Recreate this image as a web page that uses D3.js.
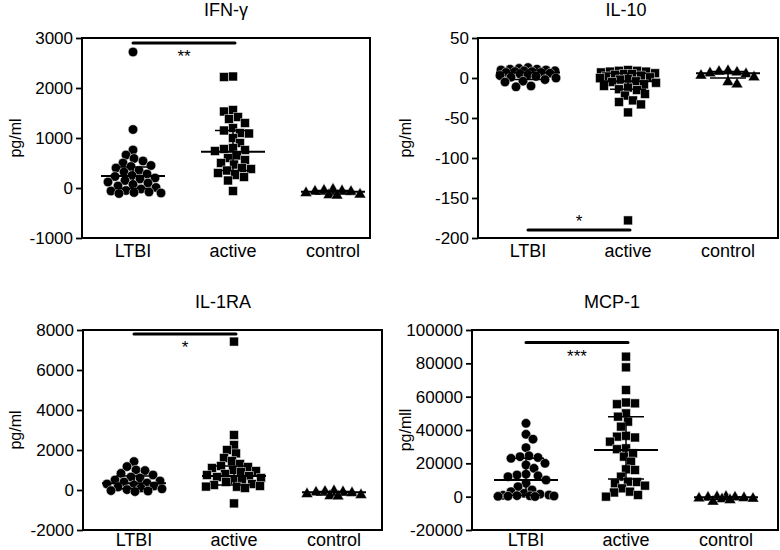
<!DOCTYPE html>
<html>
<head>
<meta charset="utf-8">
<script src="https://cdn.jsdelivr.net/npm/d3@7"></script>
<style>
  body { margin: 0; background: #fff; }
  svg { display: block; font-family: "Liberation Sans", Arial, sans-serif; }
</style>
</head>
<body>
<svg id="chart" width="780" height="550"></svg>
<script>
// groups on the x axis
const groups = ["LTBI", "active", "control"];

// IFN-gamma (pg/ml)
const ifnLTBI = [2720, 1170, 760, 660, 590, 540, 500, 450, 430, 400, 350, 320, 280, 250, 230,
  200, 180, 150, 120, 100, 70, 40, 10, -20, -50, -60, -80, -90, -100, -110];
const ifnActive = [2230, 2220, 1560, 1530, 1420, 1380, 1300, 1200, 1150, 1100, 1090, 1000, 900,
  800, 780, 760, 740, 650, 600, 560, 500, 470, 400, 380, 350, 300, 260, 220, 150, -60];
const ifnControl = [-30, -50, -60, -70, -75, -100, -130, -140, -150];
const ifnMedian = [240, 727, -75], ifnQ1 = [-10, 350, -120], ifnQ3 = [420, 1150, -50];

// IL-10 (pg/ml)
const il10LTBI = [13, 12, 11, 11, 10, 10, 9, 9, 8, 8, 7, 7, 6, 5, 4, 3, 2, 1, 0, -2, -4, -5, -10, -11];
const il10Active = [10, 9, 9, 8, 8, 7, 6, 5, 5, 4, 3, 2, 1, 0, -1, -2, -4, -5, -6, -8, -10, -12,
  -14, -15, -20, -22, -28, -30, -33, -43, -178];
const il10Control = [9, 8, 7, 6, 5, 3, 1, -5, -8];
const il10Median = [7, -4, 6], il10Q1 = [-2, -14, 0], il10Q3 = [10, 6, 8];

// IL-1RA (pg/ml)
const il1raLTBI = [1420, 1170, 1000, 970, 830, 750, 650, 600, 500, 450, 400, 350, 300, 250, 200,
  150, 100, 60, 20, -30, -50, -80];
const il1raActive = [7420, 2750, 2250, 2000, 1830, 1600, 1450, 1300, 1200, 1150, 1100, 1000, 950,
  900, 800, 750, 700, 650, 600, 500, 450, 400, 300, 250, 200, 170, 160, 100, -670];
const il1raControl = [-50, -80, -100, -120, -150, -200, -250, -300, -320];
const il1raMedian = [333, 700, -117], il1raQ1 = [60, 250, -250], il1raQ3 = [700, 1200, -80];

// MCP-1 (pg/ml)
const mcpLTBI = [44000, 37400, 34500, 29400, 24500, 24000, 23500, 23000, 20000, 19000, 17000,
  13500, 13000, 12500, 12000, 10000, 8000, 6000, 4000, 3000, 2000, 1500, 1000, 800, 600, 500,
  400, 300, 200, 100];
const mcpActive = [84000, 77600, 64000, 56500, 56000, 55500, 50000, 48000, 45000, 42000, 36500,
  36000, 35500, 33000, 29000, 28500, 26000, 24000, 21000, 16400, 16000, 12000, 9000, 8800, 8000,
  6600, 5000, 3000, 2500, 1000, 0];
const mcpControl = [0, -200, -400, -500, -800, -1000, -1200, -1500, -2000, -3000];
const mcpMedian = [10000, 28000, -400], mcpQ1 = [900, 10600, -1500], mcpQ3 = [23000, 48000, -200];

// y ticks
const ifnTicks = [-1000, 0, 1000, 2000, 3000];
const il10Ticks = [-200, -150, -100, -50, 0, 50];
const il1raTicks = [-2000, 0, 2000, 4000, 6000, 8000];
const mcpTicks = [-20000, 0, 20000, 40000, 60000, 80000, 100000];

const panels = [
  { title: "IFN-γ", yLabel: "pg/ml", series: [ifnLTBI, ifnActive, ifnControl],
    median: ifnMedian, q1: ifnQ1, q3: ifnQ3, ticks: ifnTicks,
    sig: { from: 0, to: 1, value: 2900, text: "**", below: true },
    left: 82, right: 370, top: 38, bottom: 238, cx: 133, labelX: 15, titleX: 226, catY: 257 },
  { title: "IL-10", yLabel: "pg/ml", series: [il10LTBI, il10Active, il10Control],
    median: il10Median, q1: il10Q1, q3: il10Q3, ticks: il10Ticks,
    sig: { from: 0, to: 1, value: -190, text: "*", below: false },
    left: 478, right: 778, top: 38, bottom: 238, cx: 528, labelX: 405, titleX: 626, catY: 257 },
  { title: "IL-1RA", yLabel: "pg/ml", series: [il1raLTBI, il1raActive, il1raControl],
    median: il1raMedian, q1: il1raQ1, q3: il1raQ3, ticks: il1raTicks,
    sig: { from: 0, to: 1, value: 7800, text: "*", below: true },
    left: 83, right: 382, top: 330, bottom: 530, cx: 134, labelX: 15, titleX: 223, catY: 546 },
  { title: "MCP-1", yLabel: "pg/mll", series: [mcpLTBI, mcpActive, mcpControl],
    median: mcpMedian, q1: mcpQ1, q3: mcpQ3, ticks: mcpTicks,
    sig: { from: 0, to: 1, value: 92500, text: "***", below: true },
    left: 472, right: 778, top: 330, bottom: 530, cx: 526, labelX: 405, titleX: 612, catY: 546 }
];

const symbols = [
  d3.symbol().type(d3.symbolCircle).size(72),
  d3.symbol().type(d3.symbolSquare).size(80),
  d3.symbol().type(d3.symbolTriangle).size(62)
];

// simple beeswarm: push each point sideways until it no longer collides
function swarm(values, y, minDist, maxOff) {
  const pts = values.map(v => ({ v, y: y(v), dx: 0 }))
    .sort((a, b) => a.y - b.y);
  const placed = [];
  pts.forEach((p, i) => {
    let best = 0, bestGap = -1;
    const sign = i % 2 ? -1 : 1;
    for (let k = 0; k <= maxOff * 2; k++) {
      const off = k === 0 ? 0 : sign * (k % 2 ? 1 : -1) * Math.ceil(k / 2);
      let gap = Infinity;
      placed.forEach(q => {
        const d = Math.hypot(q.dx - off, q.y - p.y);
        if (d < gap) gap = d;
      });
      if (gap >= minDist) { best = off; bestGap = gap; break; }
      if (gap > bestGap) { bestGap = gap; best = off; }
    }
    p.dx = best;
    placed.push(p);
  });
  return pts;
}

const svg = d3.select("#chart");

panels.forEach(p => {
  const y = d3.scaleLinear()
    .domain([p.ticks[0], p.ticks[p.ticks.length - 1]])
    .range([p.bottom, p.top]);
  const x = d3.scalePoint().domain(groups).range([p.cx, p.cx + 200]);
  const g = svg.append("g");

  // title
  g.append("text")
    .attr("x", p.titleX).attr("y", p.top - 22)
    .attr("text-anchor", "middle")
    .attr("font-size", 18)
    .text(p.title);

  // y label
  g.append("text")
    .attr("transform", `translate(${p.labelX},${(p.top + p.bottom) / 2}) rotate(-90)`)
    .attr("text-anchor", "middle")
    .attr("dominant-baseline", "central")
    .attr("font-size", 16)
    .text(p.yLabel);

  // y axis
  const yAxis = g.append("g")
    .attr("transform", `translate(${p.left},0)`)
    .call(d3.axisLeft(y).tickValues(p.ticks).tickSize(6).tickPadding(3).tickFormat(d => String(d)));
  yAxis.select(".domain").remove();
  yAxis.selectAll(".tick line").attr("stroke-width", 1.8);
  yAxis.selectAll(".tick text")
    .attr("font-size", 17)
    .attr("font-family", "Liberation Sans, Arial, sans-serif")
    .attr("fill", "#000");

  // category labels
  g.selectAll(".cat")
    .data(groups)
    .join("text")
    .attr("x", d => x(d))
    .attr("y", p.catY)
    .attr("text-anchor", "middle")
    .attr("font-size", 18)
    .text(d => d);

  // points
  p.series.forEach((vals, gi) => {
    const pts = swarm(vals, y, 8.5, 28);
    g.append("g").selectAll("path")
      .data(pts)
      .join("path")
      .attr("d", symbols[gi])
      .attr("transform", d => `translate(${x(groups[gi]) + d.dx},${d.y})`)
      .attr("fill", "#000")
      .attr("stroke", "#fff")
      .attr("stroke-width", 0.5);
  });

  // median + interquartile range
  groups.forEach((cat, gi) => {
    const cx = x(cat);
    g.append("line")
      .attr("x1", cx - 32).attr("x2", cx + 32)
      .attr("y1", y(p.median[gi])).attr("y2", y(p.median[gi]))
      .attr("stroke", "#000").attr("stroke-width", 2);
    g.append("line")
      .attr("x1", cx).attr("x2", cx)
      .attr("y1", y(p.q1[gi])).attr("y2", y(p.q3[gi]))
      .attr("stroke", "#000").attr("stroke-width", 1.5);
    [p.q1[gi], p.q3[gi]].forEach(v => {
      g.append("line")
        .attr("x1", cx - 18).attr("x2", cx + 18)
        .attr("y1", y(v)).attr("y2", y(v))
        .attr("stroke", "#000").attr("stroke-width", 1.5);
    });
  });

  // significance bar
  const s = p.sig;
  const x1 = x(groups[s.from]), x2 = x(groups[s.to]) + 2;
  g.append("line")
    .attr("x1", x1).attr("x2", x2)
    .attr("y1", y(s.value)).attr("y2", y(s.value))
    .attr("stroke", "#000").attr("stroke-width", 3)
    .attr("stroke-linecap", "round");
  g.append("text")
    .attr("x", (x1 + x2) / 2)
    .attr("y", y(s.value) + (s.below ? 19 : -3))
    .attr("text-anchor", "middle")
    .attr("font-size", 17)
    .text(s.text);

  // frame
  g.append("rect")
    .attr("x", p.left).attr("y", p.top)
    .attr("width", p.right - p.left).attr("height", p.bottom - p.top)
    .attr("fill", "none")
    .attr("stroke", "#000")
    .attr("stroke-width", 2);
});
</script>
</body>
</html>
